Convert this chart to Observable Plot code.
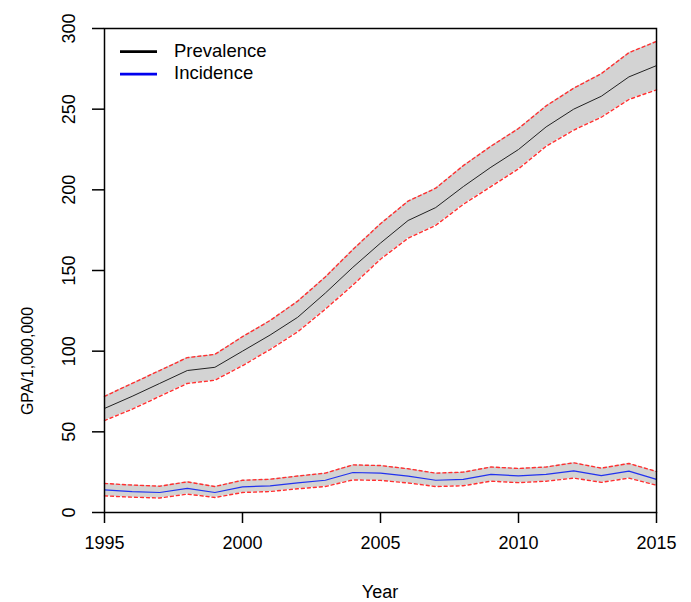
<!DOCTYPE html>
<html>
<head>
<meta charset="utf-8">
<script src="https://cdn.jsdelivr.net/npm/d3@7"></script>
<script src="https://cdn.jsdelivr.net/npm/@observablehq/plot@0.6"></script>
<style>
  html, body { margin: 0; padding: 0; background: #fff; }
  #chart { width: 691px; height: 602px; }
</style>
</head>
<body>
<div id="chart"></div>
<script>
const years = [1995,1996,1997,1998,1999,2000,2001,2002,2003,2004,2005,2006,2007,2008,2009,2010,2011,2012,2013,2014,2015];
const prevalence      = [64.5,72,80,88,90,100,110,121,136,152,167,181,189,202,214,225,239,250,258,270,277];
const prevalenceLower = [57,64,72,80,82,91,101,112,126,141,157,170,178,191,202,213,227,237,245,256,262];
const prevalenceUpper = [72,80,88,96,98,109,119,131,146,163,179,193,201,215,227,238,252,263,272,285,292];
const incidence      = [14,13,12.4,14.9,12.4,15.9,16.5,18.4,20,24.8,24.4,22.5,20,20.5,23.6,22.7,23.6,25.8,22.9,25.6,20.5];
const incidenceLower = [10.3,9.5,9,11.4,9.3,12.4,13,14.7,16.1,20.2,19.9,18.3,16.1,16.6,19.4,18.5,19.4,21.3,18.7,21.3,16.9];
const incidenceUpper = [18,17,16.3,19,16.1,20,20.6,22.6,24.4,29.5,29.1,27.1,24.4,25,28.2,27.3,28.2,30.8,27.5,30.4,25.4];
const xTicks = [1995,2000,2005,2010,2015];
const yTicks = [0,50,100,150,200,250,300];
const seriesNames = ["Prevalence","Incidence"];
const xLabel = "Year";
const yLabel = "GPA/1,000,000";

const prev = years.map((y,i)=>({year:y, v:prevalence[i], lo:prevalenceLower[i], hi:prevalenceUpper[i]}));
const inc = years.map((y,i)=>({year:y, v:incidence[i], lo:incidenceLower[i], hi:incidenceUpper[i]}));

const font = "'Liberation Sans', Arial, sans-serif";
const red = "#ff3030";
const dash = "3,3";

const plot = Plot.plot({
  width: 691,
  height: 602,
  marginLeft: 104,
  marginRight: 35,
  marginTop: 28,
  marginBottom: 90,
  style: {fontFamily: font, fontSize: "18px", color: "#000", background: "#fff"},
  x: {domain: [1995, 2015]},
  y: {domain: [0, 300]},
  marks: [
    Plot.areaY(prev, {x:"year", y1:"lo", y2:"hi", fill:"#d3d3d3"}),
    Plot.areaY(inc, {x:"year", y1:"lo", y2:"hi", fill:"#d3d3d3"}),
    Plot.line(prev, {x:"year", y:"hi", stroke:red, strokeWidth:1.4, strokeDasharray:dash}),
    Plot.line(prev, {x:"year", y:"lo", stroke:red, strokeWidth:1.4, strokeDasharray:dash}),
    Plot.line(inc, {x:"year", y:"hi", stroke:red, strokeWidth:1.4, strokeDasharray:dash}),
    Plot.line(inc, {x:"year", y:"lo", stroke:red, strokeWidth:1.4, strokeDasharray:dash}),
    Plot.line(prev, {x:"year", y:"v", stroke:"#222", strokeWidth:1}),
    Plot.line(inc, {x:"year", y:"v", stroke:"#2233ee", strokeWidth:1.2}),
    Plot.frame({stroke:"#000", strokeWidth:1.5}),
    Plot.axisX({ticks:xTicks, tickSize:11, tickPadding:13, tickFormat:d=>String(d), fontSize:18, label:null, strokeWidth:1.5}),
    Plot.axisY({ticks:yTicks, tickSize:12, tickFormat:()=>"", label:null, strokeWidth:1.5}),
    Plot.text(yTicks, {x:()=>1995, y:d=>d, text:d=>String(d), rotate:-90, dx:-35, fontSize:18, textAnchor:"middle", lineAnchor:"middle", fill:"#000"})
  ]
});

document.getElementById("chart").appendChild(plot);

const svg = d3.select(plot);
svg.append("text").attr("x", 380).attr("y", 593).attr("text-anchor","middle")
  .attr("dominant-baseline","middle").attr("font-size",18).attr("font-family",font).attr("fill","#000").text(xLabel);
svg.append("text").attr("transform","translate(29,361) rotate(-90)").attr("text-anchor","middle")
  .attr("dominant-baseline","middle").attr("font-size",16).attr("font-family",font).attr("fill","#000").text(yLabel);

const legendColors = ["#000","#0000ee"];
seriesNames.forEach((name,i)=>{
  const y = 51.7 + i*22.5;
  svg.append("line").attr("x1",120).attr("x2",157).attr("y1",y).attr("y2",y)
    .attr("stroke",legendColors[i]).attr("stroke-width",2.8);
  svg.append("text").attr("x",174).attr("y",y).attr("text-anchor","start").attr("dominant-baseline","middle")
    .attr("font-size",18.5).attr("font-family",font).attr("fill","#000").text(name);
});
</script>
</body>
</html>
